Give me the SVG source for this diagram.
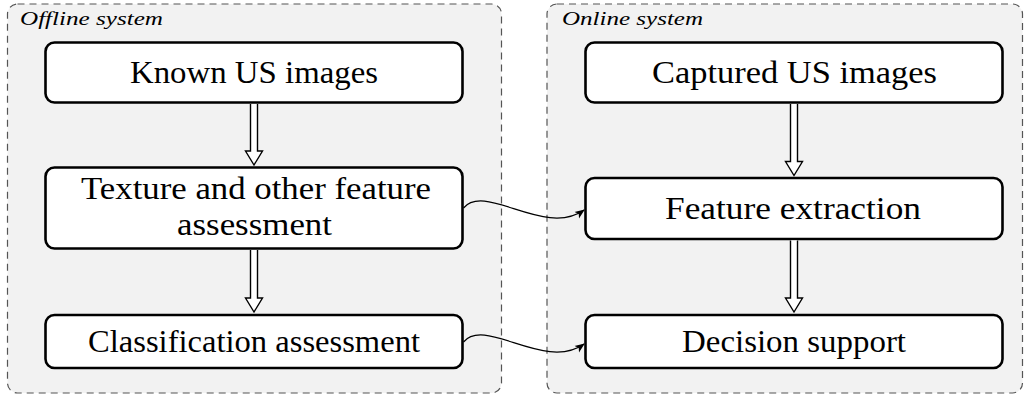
<svg xmlns="http://www.w3.org/2000/svg" width="1029" height="396" viewBox="0 0 1029 396">
<style>
.sys{fill:#f2f2f2;stroke:#555;stroke-width:1.2;stroke-dasharray:7,5}
.node{fill:#fff;stroke:#000;stroke-width:2.6}
.t{font-family:"Liberation Serif","Times New Roman",serif;font-size:32px;fill:#000;text-anchor:middle}
.lab{font-family:"Liberation Serif","Times New Roman",serif;font-style:italic;font-size:18px;fill:#000}
.dbl{fill:#fff;stroke:#000;stroke-width:1.4;stroke-linejoin:miter}
.conn{fill:none;stroke:#000;stroke-width:1.2}
</style>
<defs>
<marker id="ah" viewBox="0 0 10 10" refX="9" refY="5" markerWidth="10" markerHeight="10" markerUnits="userSpaceOnUse" orient="auto">
<path d="M0,1 L10,5 L0,9 L2.5,5 Z" fill="#000"/>
</marker>
</defs>
<g id="offline">
<rect class="sys" x="7.5" y="4" width="494" height="389" rx="10"/>
<text class="lab" x="20" y="25" textLength="143" lengthAdjust="spacingAndGlyphs">Offline  system</text>
</g>
<g id="online">
<rect class="sys" x="547" y="4" width="475.5" height="389" rx="10"/>
<text class="lab" x="562" y="25" textLength="141" lengthAdjust="spacingAndGlyphs">Online  system</text>
</g>
<g id="known">
<rect class="node" x="45.5" y="42.5" width="417" height="60" rx="9"/>
<text class="t" x="254" y="83" textLength="248" lengthAdjust="spacingAndGlyphs">Known US images</text>
</g>
<g id="texture">
<rect class="node" x="45.5" y="167.5" width="417" height="81" rx="9"/>
<text class="t" x="256" y="199" textLength="350" lengthAdjust="spacingAndGlyphs">Texture and other feature</text>
<text class="t" x="254.5" y="235" textLength="155" lengthAdjust="spacingAndGlyphs">assessment</text>
</g>
<g id="classification">
<rect class="node" x="45.5" y="315" width="417" height="53" rx="9"/>
<text class="t" x="254" y="352" textLength="332" lengthAdjust="spacingAndGlyphs">Classification assessment</text>
</g>
<g id="captured">
<rect class="node" x="585.5" y="42.5" width="417" height="60" rx="9"/>
<text class="t" x="794.5" y="83" textLength="285" lengthAdjust="spacingAndGlyphs">Captured US images</text>
</g>
<g id="feature">
<rect class="node" x="585.5" y="178" width="417" height="61" rx="9"/>
<text class="t" x="793" y="219" textLength="256" lengthAdjust="spacingAndGlyphs">Feature extraction</text>
</g>
<g id="decision">
<rect class="node" x="585.5" y="315" width="417" height="53" rx="9"/>
<text class="t" x="794" y="352" textLength="224" lengthAdjust="spacingAndGlyphs">Decision support</text>
</g>
<g id="connectors">
<path class="dbl" d="M250.5,104 V151 H245.5 L254,165 L262.5,151 H257.5 V104"/>
<path class="dbl" d="M250.5,250 V298 H245.5 L254,312 L262.5,298 H257.5 V250"/>
<path class="dbl" d="M790.5,104 V161.5 H785.5 L794,175.5 L802.5,161.5 H797.5 V104"/>
<path class="dbl" d="M790.5,240.5 V298 H785.5 L794,312 L802.5,298 H797.5 V240.5"/>
<path class="conn" marker-end="url(#ah)" d="M463.5,208 C485,182 545,238 584,210"/>
<path class="conn" marker-end="url(#ah)" d="M463.5,342 C485,316 545,372 584,344"/>
</g>
</svg>
